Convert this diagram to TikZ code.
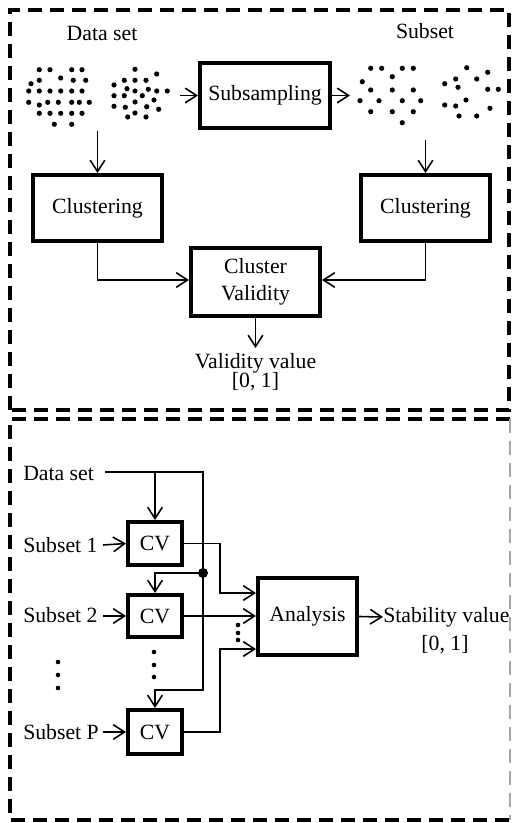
\documentclass[tikz,border=0pt]{standalone}
\usepackage{fontspec}
\setmainfont{Liberation Serif}
\usetikzlibrary{arrows.meta}
\begin{document}
\begin{tikzpicture}[x=0.75pt,y=-0.75pt,
  font=\fontsize{16.3}{18}\selectfont,
  box/.style={draw,line width=3pt,inner sep=0pt,align=center},
  arr/.style={line width=1.2pt,-{Straight Barb[length=8.5pt,width=11pt,line width=1.2pt]}},
  frame/.style={line width=2.8pt,dash pattern=on 10.5pt off 6pt},
  lbl/.style={inner sep=0pt}]
\useasboundingbox (0,0) rectangle (511,823);
% frames
\draw[frame] (10,410) -- (10,10) -- (509,10) -- (509,410) -- cycle;
\draw[frame] (510,419) -- (10,419) -- (10,820) -- (510,820);
\draw[line width=1.2pt,gray!70,dash pattern=on 10.5pt off 6pt] (510,419) -- (510,820);

% ---------- top part ----------
\node[lbl] (tds) at (102,33) {Data set};
\node[lbl] (tss) at (425,31) {Subset};
% dot clouds
\foreach \p in {(39.3,69.7),(50,69.7),(71.7,69.7),(82,69.7),
  (31,83.7),(39.3,80.3),(60.7,78),(73.3,80.3),(85.7,80.3),
  (28.7,91),(39.3,91),(50,91),(60.7,91),(71.7,91),(82,91),
  (28.7,102.3),(39.3,105),(47.7,102.3),(58.3,102.3),(71.7,102.3),(79.3,102.3),(89.3,102.3),
  (39.3,113.3),(50,113.3),(60.7,113.3),(71.7,113.3),(82,113.3),
  (54.3,124.3),(71.7,124.3)}
  \fill \p circle (2.6);
\foreach \p in {(135,69.3),(156.7,74),(124.3,80.3),(135,80.3),(146,80.3),
  (114,85),(127,88.7),(135,91),(148.3,89.3),(156.7,91),(167.3,91),
  (114,95.7),(124.3,95.7),(142.3,95.7),(135,102),(154,100),
  (114,106.3),(125.3,107.3),(146.7,106.7),(158.7,109.3),(135,113),
  (127.7,117),(146,117)}
  \fill \p circle (2.6);
\foreach \p in {(370.7,68.3),(381.7,68.3),(402.3,68.3),(413.3,68.3),
  (392.3,76.7),(362.3,81.7),(370.7,90),(392.3,90),(413.3,90),
  (360,100.7),(379,100.7),(402.3,100.7),(420.7,100.7),
  (370.7,111.7),(392.3,111.7),(413.3,111.7),(402.3,122.7)}
  \fill \p circle (2.6);
\foreach \p in {(466.7,67.7),(487.7,72.3),(455.7,79),(476.7,79),(444.7,83.7),
  (458,87.3),(487.7,89.3),(498.3,89.3),(466,100),(444.7,105),(455.7,106),
  (490,108.3),(459,116),(476.7,116)}
  \fill \p circle (2.6);

\node[box,minimum width=97.5pt,minimum height=48.75pt] (sub) at (265,95.5) {Subsampling};
\node[box,minimum width=96.75pt,minimum height=49.5pt] (cl) at (97.5,208) {Clustering};
\node[box,minimum width=96.75pt,minimum height=49.5pt] (cr) at (425.5,208) {Clustering};
\node[box,minimum width=96.75pt,minimum height=51pt] (cv) at (255.5,282) {Cluster\\[2pt]Validity};
\node[lbl] (vv) at (255.5,363) {Validity value};
\node[lbl] (vr) at (255.5,382) {[0, 1]};

\coordinate (inL) at (180,95.5);
\coordinate (outR) at (350,95.5);
\coordinate (dL) at (97.5,131);
\coordinate (dR) at (425.5,140);
\coordinate (vend) at (255.5,348);
\coordinate (mL) at (97.5,280);
\coordinate (mR) at (425.5,280);
\draw[arr] (inL) -- (sub.west);
\draw[arr] (sub.east) -- (outR);
\draw[arr] (dL) -- (cl.north);
\draw[arr] (dR) -- (cr.north);
\draw[arr] (cl.south) -- (mL) -- (cv.west |- mL);
\draw[arr] (cr.south) -- (mR) -- (cv.east |- mR);
\draw[arr] (cv.south) -- (vend);

% ---------- bottom part ----------
\node[lbl,anchor=west] (bds) at (23,473) {Data set};
\node[lbl,anchor=west] (s1) at (23,545) {Subset 1};
\node[lbl,anchor=west] (s2) at (23,615) {Subset 2};
\node[lbl,anchor=west] (sp) at (23,732) {Subset P};

\node[box,minimum width=40.5pt,minimum height=32.25pt] (cv1) at (155,543.5) {CV};
\node[box,minimum width=40.5pt,minimum height=31.5pt] (cv2) at (155,616) {CV};
\node[box,minimum width=40.5pt,minimum height=33pt] (cvp) at (155,732) {CV};
\node[box,minimum width=74.25pt,minimum height=57.75pt] (an) at (307.5,616.5) {Analysis};
\node[lbl,anchor=west] (sv) at (383,617) {Stability value};
\node[lbl] (sr) at (445,645) {[0, 1]};

\coordinate (dsA) at (105,472);
\coordinate (j2) at (203,690);
\coordinate (j1) at (203,573);
\coordinate (k1) at (220,593);
\coordinate (k3) at (220,649);
\coordinate (s1e) at (103,545);
\coordinate (s2e) at (103,616);
\coordinate (spe) at (103,732);

\draw[arr] (dsA) -| (j2) -| (cvp.north);
\draw[arr] (cv1.north |- dsA) -- (cv1.north);
\draw[arr] (j1) -| (cv2.north);
\fill (j1) circle (5);
\draw[arr] (s1e) -- (cv1.west);
\draw[arr] (s2e) -- (cv2.west);
\draw[arr] (spe) -- (cvp.west);
\draw[arr] (cv1.east) -| (k1) -- (an.west |- k1);
\draw[arr] (cv2.east) -- (an.west |- cv2.east);
\draw[arr] (cvp.east) -| (k3) -- (an.west |- k3);
\draw[arr] (an.east) -- (sv.west);

% ellipses
\foreach \y in {652,665,677} \fill (154,\y) circle (2.3);
\foreach \y in {662,675,688} \fill (58,\y) circle (2.3);
\foreach \y in {625,633,640} \fill (238,\y) circle (2.3);
\end{tikzpicture}
\end{document}
